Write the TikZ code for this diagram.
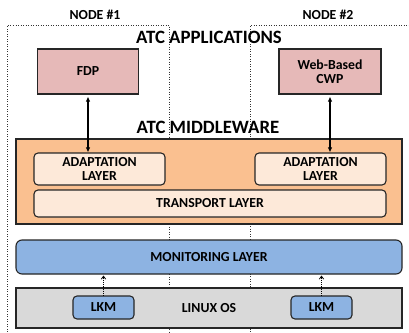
\documentclass[tikz,border=0pt]{standalone}
\usepackage{fontspec}
\setmainfont{Carlito}
\usetikzlibrary{arrows.meta}
\definecolor{appfill}{HTML}{E6B9B8}
\definecolor{midfill}{HTML}{FAC090}
\definecolor{layfill}{HTML}{FDE9D9}
\definecolor{monfill}{HTML}{8DB3E2}
\definecolor{osfill}{HTML}{D9D9D9}
\definecolor{edge}{HTML}{262626}
\tikzset{
  box/.style={draw=edge, line width=1.1pt, inner sep=0pt},
  appbox/.style={box, fill=appfill},
  rbox/.style={box, rounded corners=4pt},
  lbl/.style={font=\bfseries\fontsize{13.8}{14.5}\selectfont, align=center},
  ttl/.style={font=\bfseries\fontsize{18.8}{20}\selectfont},
  nodearea/.style={draw=black!80, dotted, line width=0.5pt},
  link/.style={line width=1.4pt, {Latex[length=5pt,width=4.5pt]}-{Latex[length=5pt,width=4.5pt]}},
  kmlink/.style={densely dotted, line width=0.8pt, -{Straight Barb[length=3pt,width=4.5pt]}}
}
\begin{document}
\begin{tikzpicture}[x=1pt,y=-1pt]
\useasboundingbox[fill=white] (0,0) rectangle (409,332);
% node areas
\draw[nodearea] (7,334) -- (7,25) -- (169,25) -- (169,334);
\draw[nodearea] (250,334) -- (250,25) -- (411,25);
\node[lbl] (n1) at (95,15) {NODE \#1};
\node[lbl] (n2) at (328,15) {NODE \#2};
% applications
\node[ttl] (apps) at (209,37) {ATC APPLICATIONS};
\node[appbox, minimum width=101pt, minimum height=45pt, lbl] (fdp) at (88,71.5) {FDP};
\node[appbox, minimum width=102pt, minimum height=45pt, lbl] (cwp) at (330,71.5) {Web-Based\\CWP};
% middleware
\node[ttl] (mw) at (208,127) {ATC MIDDLEWARE};
\node[box, fill=midfill, minimum width=386pt, minimum height=85pt] (mid) at (209,181.5) {};
\node[rbox, fill=layfill, minimum width=131pt, minimum height=32pt, lbl] (ad1) at (99.5,169) {ADAPTATION\\LAYER};
\node[rbox, fill=layfill, minimum width=131pt, minimum height=32pt, lbl] (ad2) at (320.5,169) {ADAPTATION\\LAYER};
\node[rbox, fill=layfill, minimum width=352pt, minimum height=27pt, lbl] (tr) at (210,203.5) {TRANSPORT LAYER};
% monitoring
\node[rbox, rounded corners=6pt, fill=monfill, minimum width=386pt, minimum height=34pt, lbl] (mon) at (209,257) {MONITORING LAYER};
% operating system
\node[box, fill=osfill, minimum width=386pt, minimum height=40pt] (os) at (209,308) {};
\node[lbl] (ostxt) at (209,308) {LINUX OS};
\node[rbox, fill=monfill, minimum width=61pt, minimum height=23pt, lbl] (lkm1) at (103.5,307.5) {LKM};
\node[rbox, fill=monfill, minimum width=61pt, minimum height=23pt, lbl] (lkm2) at (321.5,307.5) {LKM};
% connectors
\draw[link] ([yshift=-2pt]fdp.south) -- (ad1.north -| fdp.south);
\draw[link] ([yshift=-2pt]cwp.south) -- (ad2.north -| cwp.south);
\draw[kmlink] (lkm1.north) -- ([yshift=-1pt]mon.south -| lkm1.north);
\draw[kmlink] (lkm2.north) -- ([yshift=-1pt]mon.south -| lkm2.north);
\end{tikzpicture}
\end{document}
